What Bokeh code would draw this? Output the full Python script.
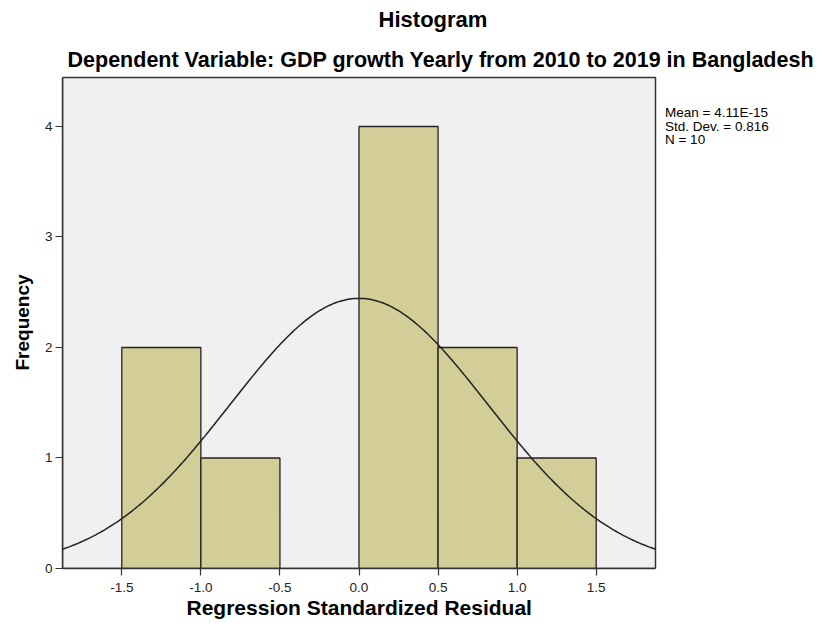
import numpy as np
from bokeh.plotting import figure
from bokeh.models import Range1d, FixedTicker, NumeralTickFormatter, Label, Title
from bokeh.embed import file_html
from bokeh.resources import INLINE

# ---- data ----
bin_left = [-1.5, -1.0, -0.5, 0.0, 0.5, 1.0]
bin_width = 0.5
counts = [2, 1, 0, 4, 2, 1]
x_ticks = [-1.5, -1.0, -0.5, 0.0, 0.5, 1.0, 1.5]
y_ticks = [0, 1, 2, 3, 4]
stat_mean = 4.11e-15
stat_sd = 0.816
stat_n = 10
stats_text = ["Mean = 4.11E-15", "Std. Dev. = 0.816", "N = 10"]
title_text = "Histogram"
subtitle_text = "Dependent Variable: GDP growth Yearly from 2010 to 2019 in Bangladesh"
x_label = "Regression Standardized Residual"
y_label = "Frequency"

FONT = "Liberation Sans"
# visible plot area (data units)
X0, X1 = -1.875, 1.875
Y0, Y1 = 0.0, 4.443
# frame extends right and up beyond the plot area to host the texts
X_END = 2.969
Y_END = 5.140

p = figure(width=828, height=626, output_backend="svg", toolbar_location=None,
           x_range=Range1d(X0, X_END), y_range=Range1d(Y0, Y_END),
           min_border_left=62, min_border_right=0, min_border_top=0, min_border_bottom=58)
p.background_fill_color = "white"
p.border_fill_color = "white"
p.outline_line_color = None
p.xgrid.visible = False
p.ygrid.visible = False

# plot area background
p.quad(left=[X0], right=[X1], bottom=[Y0], top=[Y1],
       fill_color="#F0F0F0", line_color="#333333", line_width=1.5)

# bars
lefts = [l for l, c in zip(bin_left, counts) if c > 0]
tops = [c for c in counts if c > 0]
rights = [l + bin_width for l in lefts]
p.quad(left=lefts, right=rights, bottom=0, top=tops,
       fill_color="#D3CE97", line_color="#222222", line_width=1.3)

# normal curve from stats
xs = np.linspace(X0, X1, 300)
scale = stat_n * bin_width / (stat_sd * np.sqrt(2 * np.pi))
ys = scale * np.exp(-((xs - stat_mean) ** 2) / (2 * stat_sd ** 2))
p.line(xs, ys, line_color="#222222", line_width=1.5)

# axes
for ax in (p.xaxis, p.yaxis):
    ax.major_label_text_font = FONT
    ax.major_label_text_font_size = "13.5px"
    ax.major_label_text_color = "#222222"
    ax.major_tick_out = 7
    ax.major_tick_in = 0
    ax.minor_tick_line_color = None
    ax.axis_line_color = "#333333"
    ax.axis_line_width = 1.5
    ax.major_tick_line_color = "#333333"
    ax.major_tick_line_width = 1.2
p.xaxis.ticker = FixedTicker(ticks=x_ticks)
p.xaxis.formatter = NumeralTickFormatter(format="0.0")
p.xaxis.bounds = (X0, X1)
p.xaxis.major_label_standoff = 7
p.yaxis.ticker = FixedTicker(ticks=y_ticks)
p.yaxis.bounds = (Y0, Y1)
p.yaxis.major_label_standoff = 3

# axis titles (as side titles so they centre on the plot area, not the frame)
p.add_layout(Title(text=x_label, align="left", offset=124, standoff=2,
                   vertical_align="top",
                   text_font=FONT, text_font_size="21px", text_font_style="bold",
                   text_color="black"), "below")
p.add_layout(Title(text=y_label, align="left", offset=198, standoff=18,
                   text_font=FONT, text_font_size="19px", text_font_style="bold",
                   text_color="black"), "left")

def lab(x, y, t, size, bold=False, align="center"):
    p.add_layout(Label(x=x, y=y, text=t, text_font=FONT, text_font_size=size,
                       text_font_style="bold" if bold else "normal",
                       text_align=align, text_baseline="middle", text_color="black"))

# titles
lab(0.468, 4.964, title_text, "22px", bold=True)
lab(0.518, 4.602, subtitle_text, "21.5px", bold=True)
# statistics text
for i, t in enumerate(stats_text):
    lab(1.935, 4.122 - 0.12 * i, t, "13.5px", align="left")

open("out.html", "w").write(file_html(p, INLINE))
